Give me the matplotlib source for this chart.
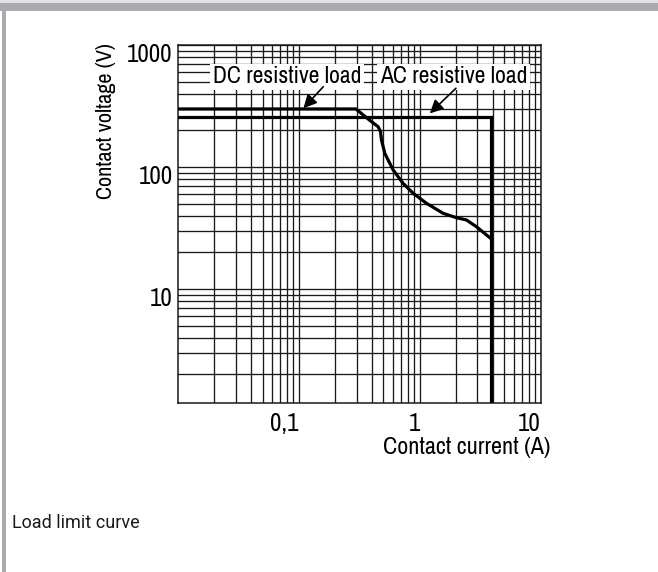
import matplotlib
matplotlib.use('Agg')
import matplotlib.pyplot as plt
from matplotlib.patches import Rectangle
from matplotlib.transforms import ScaledTranslation
from matplotlib.ticker import LogLocator, NullFormatter

# ---- data ----
dc_current = [0.01, 0.296, 0.340, 0.399, 0.452, 0.473, 0.482, 0.514, 0.602,
              0.727, 0.881, 1.136, 1.56, 2.01, 2.43, 2.94, 3.91]
dc_voltage = [299, 299, 267, 235, 214, 195, 166, 129, 94.5,
              73.5, 60.9, 50.4, 41.7, 38.4, 36.8, 32.4, 25.7]
ac_current = [0.01, 3.91, 3.91]
ac_voltage = [258, 258, 1.0]

x_ticks = [0.1, 1, 10]
x_tick_labels = ['0,1', '1', '10']
y_ticks = [10, 100, 1000]
y_tick_labels = ['10', '100', '1000']

dc_label = 'DC resistive load'
ac_label = 'AC resistive load'
x_title = 'Contact current (A)'
y_title = 'Contact voltage (V)'
caption = 'Load limit curve'

NARROW = ['Archivo Narrow', 'DejaVu Sans']

fig = plt.figure(figsize=(6.58, 5.72), dpi=100)
fig.patch.set_facecolor('white')

# page border (grey bars)
fig.patches.append(Rectangle((0, 1 - 10.7 / 572), 1, 7.7 / 572,
                             transform=fig.transFigure, facecolor='#aaaab1',
                             edgecolor='none'))
fig.patches.append(Rectangle((0, 1 - 3 / 572), 1, 3 / 572,
                             transform=fig.transFigure, facecolor='#e2e2e6',
                             edgecolor='none'))
fig.patches.append(Rectangle((2 / 658, 0), 4 / 658, 1 - 3 / 572,
                             transform=fig.transFigure, facecolor='#aaaab1',
                             edgecolor='none'))

ax = fig.add_axes([178 / 658, 1 - 403.3 / 572, 362.7 / 658, 358.3 / 572])
ax.set_xscale('log')
ax.set_yscale('log')
ax.set_xlim(0.01, 10)
ax.set_ylim(1.156, 1000)

ax.xaxis.set_minor_locator(LogLocator(base=10, subs=range(2, 10)))
ax.yaxis.set_minor_locator(LogLocator(base=10, subs=range(2, 10)))
ax.xaxis.set_minor_formatter(NullFormatter())
ax.yaxis.set_minor_formatter(NullFormatter())

ax.grid(which='both', color='#1a1a1a', lw=0.95, zorder=1)
ax.set_axisbelow(True)
for s in ax.spines.values():
    s.set_color('#1a1a1a')
    s.set_linewidth(1.1)

ax.plot(dc_current, dc_voltage, color='black', lw=2.3, zorder=4,
        solid_joinstyle='round')
ax.plot(ac_current, ac_voltage, color='black', lw=2.3, zorder=4,
        solid_joinstyle='miter')

ax.set_xticks(x_ticks)
ax.set_xticklabels(x_tick_labels, family=NARROW, fontsize=18, ha='right')
ax.set_yticks(y_ticks)
ax.set_yticklabels(y_tick_labels, family=NARROW, fontsize=18, va='center')
ax.tick_params(which='both', length=0)
ax.tick_params(axis='x', pad=6.5)
ax.tick_params(axis='y', pad=4)
off = ScaledTranslation(0, -9.5 / 100, fig.dpi_scale_trans)
for lab in ax.get_yticklabels():
    lab.set_transform(lab.get_transform() + off)

ax.set_ylabel(y_title, family=NARROW, fontsize=16, loc='top')
ax.yaxis.set_label_coords(-0.172, 1.005)
ax.set_xlabel(x_title, family=NARROW, fontsize=17.3, loc='right')
ax.xaxis.set_label_coords(1.028, -0.093)

box = dict(facecolor='white', edgecolor='none', boxstyle='square,pad=0.12')
ax.text(0.0195, 485, dc_label, family=NARROW, fontsize=17, ha='left',
        va='baseline', bbox=box, zorder=6)
ax.text(0.467, 485, ac_label, family=NARROW, fontsize=17, ha='left',
        va='baseline', bbox=box, zorder=6)

arrow = dict(arrowstyle='-|>', color='black', lw=1.2, mutation_scale=20,
             shrinkA=0, shrinkB=0)
ax.annotate('', xy=(0.109, 303), xytext=(0.159, 455), arrowprops=arrow,
            zorder=6)
ax.annotate('', xy=(1.21, 275), xytext=(1.99, 442), arrowprops=arrow,
            zorder=6)

fig.text(12 / 658, 1 - 523 / 572, caption, family=['Roboto', 'DejaVu Sans'],
         fontsize=13, ha='left', va='center', color='#1a1a1a')

fig.savefig('out.png', dpi=100)
